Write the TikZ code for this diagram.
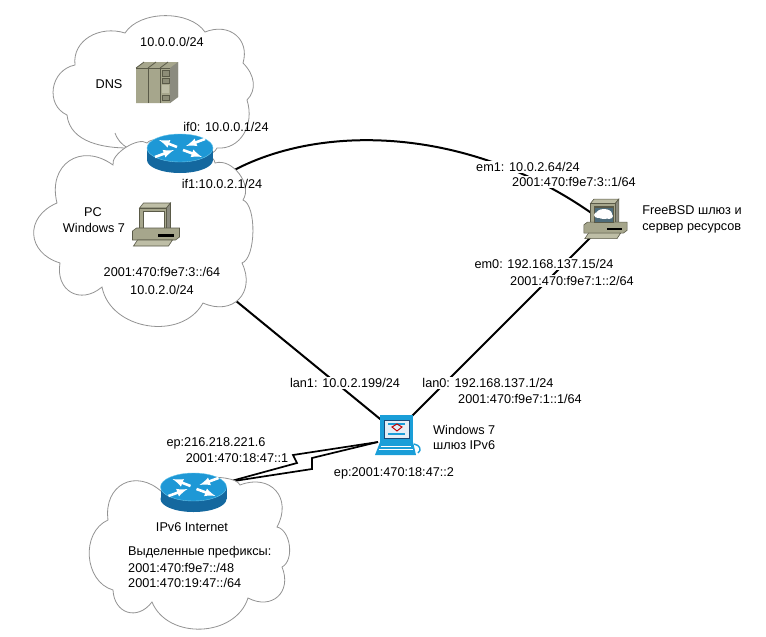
\documentclass[tikz,border=0pt]{standalone}
\usepackage{fontspec}
\setmainfont{Liberation Sans}
\usetikzlibrary{positioning}

\definecolor{routertop}{HTML}{1E98D6}
\definecolor{routerside}{HTML}{14689F}
\definecolor{routerrim}{HTML}{6CC8EC}
\definecolor{drab}{HTML}{A6A68C}
\definecolor{drablight}{HTML}{BEBEA6}
\definecolor{drabdark}{HTML}{5A5A48}
\definecolor{lapblue}{HTML}{1A9ED8}
\definecolor{lapnavy}{HTML}{174A78}
\definecolor{lapscreen}{HTML}{E4EEF6}
\definecolor{srvscreen}{HTML}{4E6C7A}

\tikzset{
  lbl/.style={font=\fontsize{12.7}{14}\selectfont, fill=white, inner sep=1pt},
  plain/.style={font=\fontsize{12.7}{14}\selectfont, inner sep=1pt},
  link/.style={draw=black, line width=2pt},
  cloudline/.style={draw=gray!85, fill=white, line width=0.8pt},
  puff/.style={bend left=70, looseness=1.5},
  routerpic/.pic={
    \fill[routerside] (0,12) ellipse [x radius=33pt, y radius=13pt];
    \fill[routerside] (-33,0) rectangle (33,12);
    \fill[routertop, draw=routerrim] (0,0) ellipse [x radius=33pt, y radius=14pt];
    \draw[white, line width=2.6pt, -latex] (-3,-1) -- (-21,-8);
    \draw[white, line width=2.6pt, -latex] (25,-9) -- (6,-2);
    \draw[white, line width=2.6pt, -latex] (3,2) -- (22,9);
    \draw[white, line width=2.6pt, -latex] (-25,9) -- (-6,2);
  },
  rackpic/.pic={
    \fill[drab] (-21,-15) -- (-13,-21) -- (21,-21) -- (21,14) -- (13,20) -- (-21,20) -- cycle;
    \fill[drabdark!70] (13,-15) -- (21,-21) -- (21,14) -- (13,20) -- cycle;
    \draw[drabdark, line width=0.8pt] (-21,-15) -- (13,-15) (-9,-15) -- (-9,20) (3,-15) -- (3,20);
    \draw[drabdark, line width=0.8pt] (-21,-15) -- (-13,-21) (-9,-15) -- (-1,-21) (3,-15) -- (11,-21);
    \draw[drabdark, line width=0.6pt, fill=drab!85!black] (5,-13) rectangle (12,-7) (5,-5) rectangle (12,0) (5,12) rectangle (12,17);
    \fill[drablight] (5,2) rectangle (12,10);
  },
  computerpic/.pic={
    \fill[drablight, draw=drabdark, line width=0.6pt] (-16,-21) -- (-12,-26) -- (15,-26) -- (11,-21) -- cycle;
    \fill[drabdark!70, draw=drabdark, line width=0.6pt] (11,-21) -- (15,-26) -- (15,-1) -- (11,3) -- cycle;
    \fill[drab, draw=drabdark, line width=0.6pt] (-16,-21) rectangle (11,3);
    \fill[white, draw=drabdark, line width=0.6pt] (-12,-18) rectangle (9,-1);
    \fill[drab, draw=drabdark, line width=0.6pt] (-23,2) -- (-19,-1) -- (24,-1) -- (24,8) -- (20,11) -- (-23,11) -- cycle;
    \fill[black] (2,5) rectangle (18,7.5);
    \fill[drablight, draw=drabdark, line width=0.6pt] (-18,11) -- (17,11) -- (13,17) -- (-22,17) -- cycle;
  },
  laptoppic/.pic={
    \fill[lapblue] (-16,-17) rectangle (17,10);
    \fill[lapscreen, draw=lapnavy, line width=1pt] (-12,-12) rectangle (13,6);
    \draw[lapblue, line width=1.2pt] (-8,-8) -- (9,-8) (-8,2) -- (9,2);
    \draw[red!75!black, line width=1pt] (-4,-5) -- (1,-8) -- (6,-5) -- (1,-1) -- cycle;
    \fill[lapblue] (-16,10) -- (17,10) -- (20,23) -- (-21,23) -- cycle;
    \draw[white, line width=0.6pt] (-15,14) -- (15,14) (-17,17) -- (17,17);
    \draw[lapblue, line width=1.4pt] (18,12) .. controls (24,13) and (26,18) .. (22,21);
  }
}

\begin{document}
\begin{tikzpicture}[x=1pt, y=-1pt, node distance=15pt]
\useasboundingbox (0,0) rectangle (766,637);

\coordinate (router) at (180,148);
\coordinate (routerlink) at (210,185);
\coordinate (pc) at (155.5,229);
\coordinate (dns) at (157,83);
\coordinate (server) at (605,223);
\coordinate (gateway) at (396,432);
\coordinate (wanrouter) at (193.5,487);

% links, the clouds hide their inner ends
\draw[link] (routerlink) .. controls (300,120) and (470,120) .. (server);
\draw[link] ([yshift=-6pt]pc) -- (gateway);
\draw[link] (gateway) -- (server);
\draw[link, line width=1.7pt] ([xshift=34pt,yshift=5pt]wanrouter) -- (297,463) -- (293,455) -- ([xshift=-18pt,yshift=-10pt]gateway);
\draw[link, line width=1.7pt] ([xshift=34pt,yshift=5pt]wanrouter) -- (312,469) -- (312,458) -- ([xshift=-18pt,yshift=-10pt]gateway);

% clouds
\draw[cloudline] (67,115) .. controls (45,105) and (50,70) .. (75,65)
  .. controls (72,40) and (100,25) .. (125,33)
  .. controls (140,10) and (190,10) .. (205,32)
  .. controls (230,22) and (250,40) .. (243,63)
  .. controls (255,75) and (257,90) .. (247,100)
  .. controls (255,125) and (240,150) .. (217,148)
  to[puff, looseness=0.5] (128,148)
  .. controls (105,148) and (70,143) .. cycle;
\draw[draw=gray!85, line width=0.8pt] (115,133) to[bend right=20] (128,148);
\draw[cloudline] (57,203) to[puff] (113,165) to[puff, looseness=0.7] (147,143) to[puff, looseness=0.5] (215,163)
  to[puff, looseness=1] (243,200) to[puff, looseness=0.6] (242,263) to[puff] (203,303) to[puff, looseness=1.1] (102,287)
  to[puff] (60,263) to[puff] cycle;
\draw[cloudline] (108,520) to[puff] (162,492) to[puff, looseness=0.5] (240,485) to[puff] (277,527)
  to[puff, looseness=0.9] (282,567) to[puff] (248,598) to[puff, looseness=1.1] (152,602) to[puff] (113,590)
  to[puff, looseness=1.1] cycle;

% devices
\pic at (router) {routerpic};
\pic at (wanrouter) {routerpic};
\pic at (dns) {rackpic};
\pic at (pc) {computerpic};
\pic[scale=0.92] at (server) {computerpic};
\fill[srvscreen, draw=drabdark, line width=0.5pt] (594,207) rectangle (613,222);
\fill[white] (604,214) ellipse [x radius=8pt, y radius=5pt] (598,215) ellipse [x radius=4pt, y radius=3pt] (609,216) ellipse [x radius=4pt, y radius=3pt];
\pic at (gateway) {laptoppic};

% addresses and names
\node (net0) [lbl] at (172,42) {10.0.0.0/24};
\node (dnsname) [plain] at (109,84) {DNS};
\node (if0) [plain] at (226,127) {if0: 10.0.0.1/24};
\node (if1) [plain] at (222,184) {if1:10.0.2.1/24};
\node (pcname) [plain] at (93,212) {PC};
\node (pcos) [plain, below of=pcname, node distance=16pt, xshift=1pt] {Windows 7};
\node (net6) [plain] at (162,272) {2001:470:f9e7:3::/64};
\node (net2) [plain, below of=net6, node distance=18pt] {10.0.2.0/24};

\node (em1) [lbl] at (528,167) {em1: 10.0.2.64/24};
\node (em1v6) [lbl] at (574,182) {2001:470:f9e7:3::1/64};
\node (srvname) [plain, align=left] at (692,219) {FreeBSD шлюз и\\[2pt]сервер ресурсов};
\node (em0) [lbl] at (544,264) {em0: 192.168.137.15/24};
\node (em0v6) [lbl] at (572,281) {2001:470:f9e7:1::2/64};

\node (lan1) [lbl] at (345,383) {lan1: 10.0.2.199/24};
\node (lan0) [lbl] at (488,383) {lan0: 192.168.137.1/24};
\node (lan0v6) [lbl] at (520,399) {2001:470:f9e7:1::1/64};
\node (gwname) [plain, align=left, anchor=west] at (432,437) {Windows 7\\[1pt]шлюз IPv6};
\node (ep2) [plain] at (394,473) {ep:2001:470:18:47::2};
\node (ep1) [plain] at (216,443) {ep:216.218.221.6};
\node (ep1v6) [lbl] at (237,458) {2001:470:18:47::1};

\node (wanname) [plain] at (192,527) {IPv6 Internet};
\node (prefhead) [plain, anchor=west] at (127,552) {Выделенные префиксы:};
\node (pref1) [plain, anchor=west] at (127,568) {2001:470:f9e7::/48};
\node (pref2) [plain, anchor=west] at (127,583) {2001:470:19:47::/64};
\end{tikzpicture}
\end{document}
